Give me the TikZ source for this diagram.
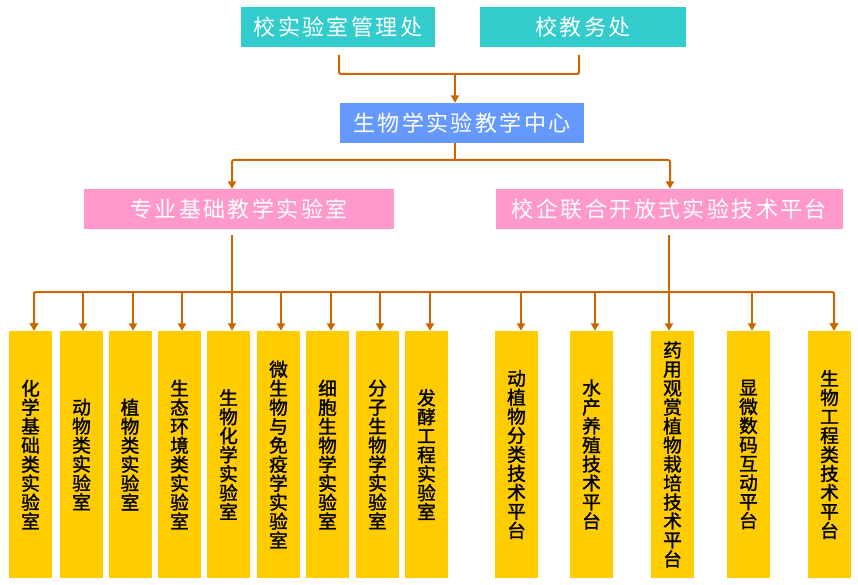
\documentclass[tikz,border=0pt]{standalone}
\usepackage{fontspec}
\newfontfamily\cjk[FakeBold=1.5]{Noto Sans CJK SC}
\newfontfamily\cjkwide[LetterSpace=11]{Noto Sans CJK SC}
\XeTeXlinebreaklocale "zh"
\XeTeXlinebreakskip=0pt plus 1pt
\usepackage{tikz}
\usetikzlibrary{arrows.meta}
\definecolor{officeteal}{HTML}{33CCCC}
\definecolor{centreblue}{HTML}{6699FF}
\definecolor{sectionpink}{HTML}{FF99CC}
\definecolor{labyellow}{HTML}{FFCC00}
\definecolor{linkorange}{HTML}{CC6600}

\begin{document}
\begin{tikzpicture}[x=0.75pt,y=-0.75pt,>={Triangle[width=6pt,length=5.5pt]},
  flow/.style={draw=linkorange,line width=1.5pt,rounded corners=1.5pt},
  office/.style={fill=officeteal,text=white,minimum height=30pt,inner sep=0pt,
    font=\cjkwide\fontsize{16.5pt}{18pt}\selectfont},
  centre/.style={office,fill=centreblue},
  section/.style={office,fill=sectionpink},
  labbox/.style={fill=labyellow,minimum width=32.25pt,minimum height=185.25pt,
    inner sep=0pt,text width=16pt,align=center,
    font=\cjk\fontsize{14pt}{14.25pt}\selectfont}]
  % Canvas
  \useasboundingbox (0,0) rectangle (858,585);
  %
  % Offices
  \node[office,minimum width=145.5pt] (labadmin) at (338,27) {校实验室管理处};
  \node[office,minimum width=154.5pt] (academic) at (583,27) {校教务处};
  \node[centre,minimum width=183pt] (centre) at (462,123) {生物学实验教学中心};
  %
  % Sections
  \node[section,minimum width=232.5pt] (basic) at (239,209) {专业基础教学实验室};
  \node[section,minimum width=260.25pt] (platform) at (669.5,209) {校企联合开放式实验技术平台};
  %
  % Offices to centre
  \coordinate (m1) at (339,55);
  \coordinate (m2) at (579,55);
  \coordinate (j0) at (455,74);
  \draw[flow] (m1) |- (j0) -| (m2);
  \draw[flow,->] (j0) -- (j0 |- centre.north);
  %
  % Centre to sections
  \coordinate (j1) at (455,160);
  \coordinate (p1) at (232,160);
  \coordinate (p2) at (670,160);
  \draw[flow] (j1 |- centre.south) -- (j1);
  \draw[flow,<->] (p1 |- basic.north) -- (p1) -- (p2) -- (p2 |- platform.north);
  %
  % Labs and platforms
  \foreach \i/\cx/\ax/\txt in {1/30.5/34/化学基础类实验室, 2/81.5/83/动物类实验室,
      3/130/133/植物类实验室, 4/179.5/182/生态环境类实验室, 5/228.5/232/生物化学实验室,
      6/278.5/281/微生物与免疫学实验室, 7/327.5/331/细胞生物学实验室,
      8/377.5/380/分子生物学实验室, 9/426.5/430/发酵工程实验室,
      10/516.5/521/动植物分类技术平台, 11/591.5/595/水产养殖技术平台,
      12/672.5/669/药用观赏植物栽培技术平台, 13/748.5/752/显微数码互动平台,
      14/829.5/834/生物工程类技术平台}{
    \node[labbox] (lab\i) at (\cx,454.5) {\txt};
    \coordinate (a\i) at (\ax,292);
    \draw[flow,->] (a\i) -- (a\i |- lab\i.north);
  }
  %
  % Bar
  \coordinate (s1) at (232,235);
  \coordinate (s2) at (669,235);
  \draw[flow,<->] (a1 |- lab1.north) -- (a1) -- (a14) -- (a14 |- lab14.north);
  \draw[flow] (s1) -- (s1 |- a1);
  \draw[flow] (s2) -- (s2 |- a1);
\end{tikzpicture}
\end{document}
